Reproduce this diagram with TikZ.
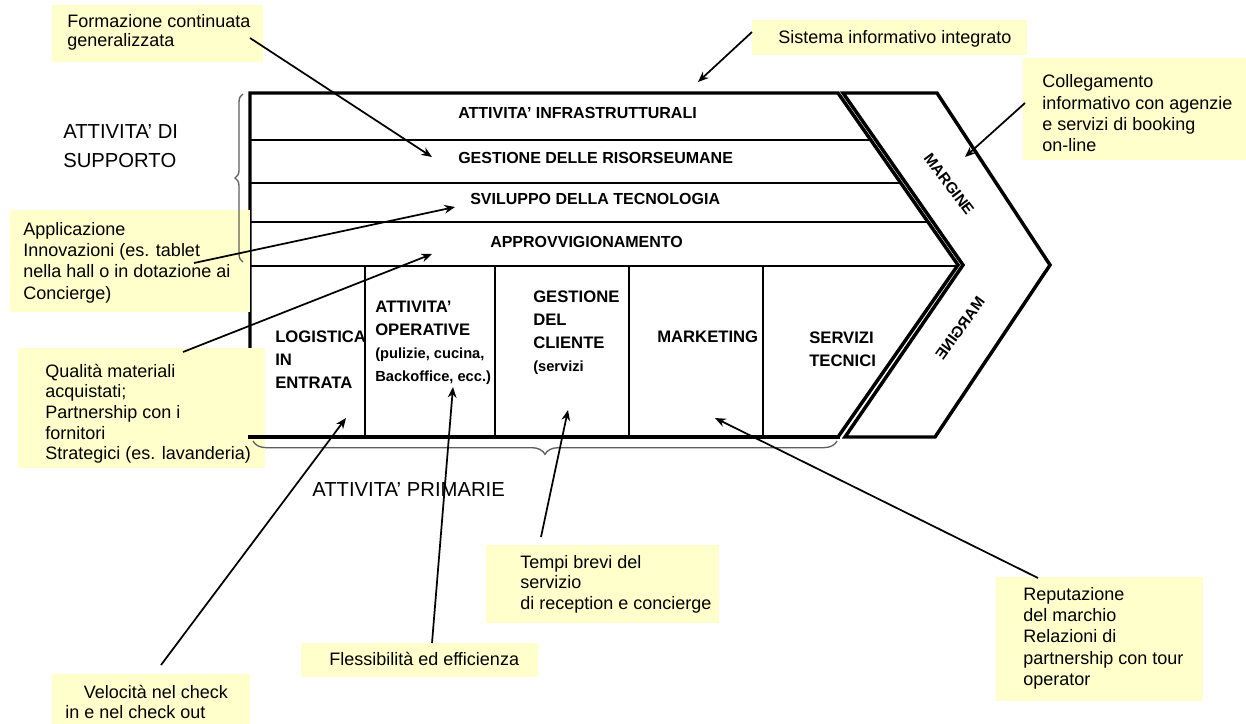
\documentclass[tikz,border=0pt]{standalone}
\usepackage{fontspec}
\setmainfont{Liberation Sans}
\usetikzlibrary{arrows.meta,decorations.pathreplacing}

\definecolor{callfill}{RGB}{255,255,204}
\definecolor{bracegray}{RGB}{95,95,95}

% left-aligned stack of lines; the baseline is the first line's baseline
\newcommand{\stk}[2][1]{\def\arraystretch{#1}\begin{tabular}[t]{@{}l@{}}#2\end{tabular}}

\begin{document}
\begin{tikzpicture}[x=0.75pt,y=-0.75pt,
  outline/.style={line width=2.6pt, line join=miter},
  divider/.style={line width=1.5pt},
  callarrow/.style={line width=1.3pt, -{Stealth[length=8pt,width=6.5pt]}},
  callbox/.style={fill=callfill},
  calltext/.style={anchor=base west, inner sep=0pt, font=\fontsize{13.5}{16}\selectfont},
  rowlabel/.style={anchor=base west, inner sep=0pt, font=\bfseries\fontsize{12}{14}\selectfont},
  celllabel/.style={anchor=base west, inner sep=0pt, font=\bfseries\fontsize{12.5}{17.25}\selectfont},
  grouplabel/.style={anchor=base west, inner sep=0pt, font=\fontsize{15.2}{21.75}\selectfont},
  marginlabel/.style={inner sep=0pt, font=\bfseries\fontsize{11.5}{13}\selectfont},
  bracket/.style={draw=bracegray, line width=1pt, decorate, decoration={brace, amplitude=#1}},
]
\fill[white] (0,0) rectangle (1246,724);
\useasboundingbox (0,0) rectangle (1246,724);

% ---- value chain body ----
\coordinate (bTL) at (250,93);
\coordinate (bTR) at (838,93);
\coordinate (bApex) at (958,265);
\coordinate (bBR) at (838,437);
\coordinate (bBL) at (250,437);

% support rows
\draw[divider] (250,140) -- (870.8,140);
\draw[divider] (250,183) -- (900.8,183);
\draw[divider] (250,222) -- (928,222);
\draw[divider] (250,266) -- (957.3,266);
% primary columns
\foreach \cx in {365,495,629,763}
  \draw[divider] (\cx,266) -- (\cx,437);

\draw[outline] (bTL) -- (bTR) -- (bApex) -- (bBR) -- (bBL) -- cycle;

% ---- margin band ----
\draw[outline] (843,93) -- (937,93) -- (1050,265) -- (935,437) -- (845,437) -- (963,265) -- cycle;

\node[marginlabel, rotate=-53] (mUp) at (949,184) {MARGINE};
\node[marginlabel, rotate=54, xscale=-1] (mLow) at (960,328) {MARGINE};

% ---- row labels ----
\node[rowlabel] (rInfra) at (458,118) {ATTIVITA' INFRASTRUTTURALI};
\node[rowlabel] (rHR) at (458,163) {GESTIONE DELLE RISORSEUMANE};
\node[rowlabel] (rTech) at (470,204) {SVILUPPO DELLA TECNOLOGIA};
\node[rowlabel] (rProc) at (490,247) {APPROVVIGIONAMENTO};

% ---- primary cells ----
\node[celllabel] (cLog) at (275,342) {\stk{LOGISTICA\\IN\\ENTRATA}};
\node[celllabel] (cOps) at (375,312) {\stk{ATTIVITA'\\OPERATIVE\\{\fontsize{11}{13}\selectfont(pulizie, cucina,}\\{\fontsize{11}{13}\selectfont Backoffice, ecc.)}}};
\node[celllabel] (cCli) at (533,302) {\stk{GESTIONE\\DEL\\CLIENTE\\{\fontsize{11}{13}\selectfont(servizi}}};
\node[celllabel] (cMkt) at (657,342) {MARKETING};
\node[celllabel] (cTec) at (809,343) {\stk{SERVIZI\\TECNICI}};

% ---- callout boxes ----
\fill[callbox] (52,5) rectangle (263,62);
\fill[callbox] (752,20) rectangle (1027,55);
\fill[callbox] (1023,58) rectangle (1246,160);
\fill[callbox] (10,210) rectangle (250,312);
\fill[callbox] (18,348) rectangle (265,468);
\fill[callbox] (52,674) rectangle (250,724);
\fill[callbox] (301,643) rectangle (538,677);
\fill[callbox] (486,545) rectangle (719,623);
\fill[callbox] (996,577) rectangle (1203,701);

% bottom edge stays above the box that overlaps it
\draw[outline, line cap=rect] (bBL) -- (bBR);

% ---- braces and group labels ----
\draw[bracket=6pt] (243,262) -- (243,94);
\draw[bracket=10pt] (837,441) -- (253,441);
\node[grouplabel] (gSup) at (63,138) {\stk[1]{ATTIVITA' DI\\SUPPORTO}};
\node[grouplabel] (gPri) at (312,496) {ATTIVITA' PRIMARIE};

% ---- callout texts ----
\node[calltext] (tForm) at (67,28) {\stk[0.85]{Formazione continuata\\generalizzata}};
\node[calltext] (tSist) at (778,44) {Sistema informativo integrato};
\node[calltext] (tColl) at (1042,88) {\stk{Collegamento\\informativo con agenzie\\e servizi di booking\\on-line}};
\node[calltext] (tAppl) at (23,235) {\stk{Applicazione\\Innovazioni (es. tablet\\nella hall o in dotazione ai\\Concierge)}};
\node[calltext] (tQual) at (45,377) {\stk[0.97]{Qualità materiali\\acquistati;\\Partnership con i\\fornitori\\Strategici (es. lavanderia)}};
\node[calltext] (tVel) at (65,698) {\stk[0.98]{\hspace*{14pt}Velocità nel check\\in e nel check out}};
\node[calltext] (tFles) at (329,665) {Flessibilità ed efficienza};
\node[calltext] (tTemp) at (520,568) {\stk[0.98]{Tempi brevi del\\servizio\\di reception e concierge}};
\node[calltext] (tRep) at (1023,600) {\stk{Reputazione\\del marchio\\Relazioni di\\partnership con tour\\operator}};

% ---- connector ends ----
\coordinate (sForm) at (250,38);   \coordinate (pForm) at (432,157);
\coordinate (sSist) at (752,32);   \coordinate (pSist) at (698,82);
\coordinate (sColl) at (1025,103); \coordinate (pColl) at (965,157);
\coordinate (sAppl) at (194,263);  \coordinate (pAppl) at (455,207);
\coordinate (sQual) at (183,352);  \coordinate (pQual) at (432,254);
\coordinate (sVel) at (161,665);   \coordinate (pVel) at (346,418);
\coordinate (sFles) at (432,643);  \coordinate (pFles) at (453,387);
\coordinate (sTemp) at (541,537);  \coordinate (pTemp) at (568,410);
\coordinate (sRep) at (1038,578);  \coordinate (pRep) at (715,418);

\draw[callarrow] (sForm) -- (pForm);
\draw[callarrow] (sSist) -- (pSist);
\draw[callarrow] (sColl) -- (pColl);
\draw[callarrow] (sAppl) -- (pAppl);
\draw[callarrow] (sQual) -- (pQual);
\draw[callarrow] (sVel) -- (pVel);
\draw[callarrow] (sFles) -- (pFles);
\draw[callarrow] (sTemp) -- (pTemp);
\draw[callarrow] (sRep) -- (pRep);
\end{tikzpicture}
\end{document}
